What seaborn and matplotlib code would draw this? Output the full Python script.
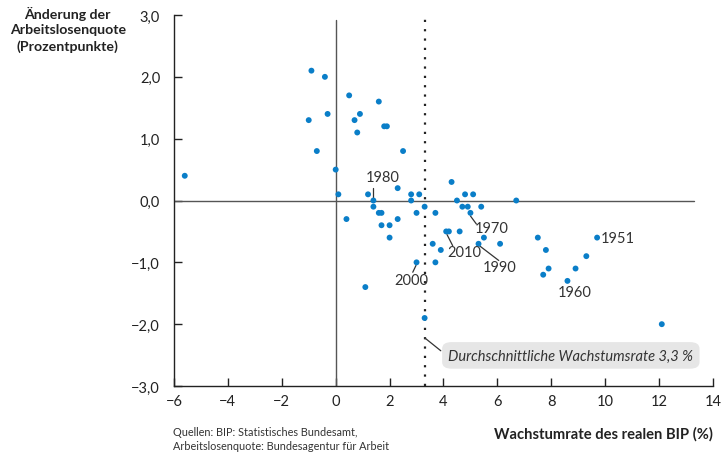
import numpy as np
import pandas as pd
import matplotlib
matplotlib.use("Agg")
import matplotlib.pyplot as plt
import seaborn as sns
from matplotlib.patches import FancyBboxPatch

# GDP growth (%) and change of the unemployment rate (percentage points)
growth = [-5.6, -0.9, -0.4, 0.5, 1.6, -0.3, 0.9, -1.0, 0.7, 1.8, 1.9, 0.8,
          -0.7, 2.5, 0.0, 2.3, 0.1, 1.2, 2.8, 3.1, 1.4, 2.8, 1.4, 3.3,
          1.6, 1.7, 3.0, 0.4, 2.3, 1.7, 2.0, 2.0, 4.1, 4.2, 4.6, 3.6,
          3.9, 3.0, 3.7, 1.1, 3.3, 4.3, 4.8, 5.1, 4.5, 6.7, 3.7, 4.7,
          4.9, 5.4, 5.0, 5.5, 5.3, 6.1, 7.5, 7.8, 7.9, 7.7, 8.6, 8.9,
          9.3, 9.7, 12.1]
delta_u = [0.4, 2.1, 2.0, 1.7, 1.6, 1.4, 1.4, 1.3, 1.3, 1.2, 1.2, 1.1,
           0.8, 0.8, 0.5, 0.2, 0.1, 0.1, 0.1, 0.1, 0.0, 0.0, -0.1, -0.1,
           -0.2, -0.2, -0.2, -0.3, -0.3, -0.4, -0.4, -0.6, -0.5, -0.5, -0.5, -0.7,
           -0.8, -1.0, -1.0, -1.4, -1.9, 0.3, 0.1, 0.1, 0.0, 0.0, -0.2, -0.1,
           -0.1, -0.1, -0.2, -0.6, -0.7, -0.7, -0.6, -0.8, -1.1, -1.2, -1.3, -1.1,
           -0.9, -0.6, -2.0]

avg_growth = 3.3

x_ticks = [-6, -4, -2, 0, 2, 4, 6, 8, 10, 12, 14]
y_ticks = [-3.0, -2.0, -1.0, 0.0, 1.0, 2.0, 3.0]

df = pd.DataFrame({"growth": growth, "delta_u": delta_u})

sns.set_style("ticks")
plt.rcParams["font.family"] = ["Lato", "DejaVu Sans"]
text_col = "#222222"

fig = plt.figure(figsize=(7.21, 4.56), dpi=100)
ax = fig.add_axes([0.2413, 0.1513, 0.7476, 0.8136])

ax.axhline(0, xmin=0, xmax=(13.3 + 6) / 20, color="#555555", lw=1.0, zorder=1)
ax.axvline(0, ymin=0, ymax=(2.92 + 3) / 6, color="#555555", lw=1.0, zorder=1)
ax.axvline(avg_growth, color="#222222", lw=1.6, ls=(0, (1, 3.2)), zorder=1)

sns.scatterplot(data=df, x="growth", y="delta_u", ax=ax, s=18,
                color="#0a7ec8", edgecolor="none", zorder=3)

ax.set_xlim(-6, 14)
ax.set_ylim(-3, 3)
ax.set_xticks(x_ticks)
ax.set_xticklabels([str(t).replace("-", "\u2212") for t in x_ticks])
ax.set_yticks(y_ticks)
ax.set_yticklabels([f"{t:.1f}".replace(".", ",").replace("-", "\u2212") for t in y_ticks])
ax.tick_params(direction="in", length=6, width=1, colors=text_col,
               labelsize=10.5, pad=6)
ax.tick_params(axis="y", pad=10)
for side in ["top", "right"]:
    ax.spines[side].set_visible(False)
for side in ["left", "bottom"]:
    ax.spines[side].set_color(text_col)
    ax.spines[side].set_linewidth(1)
ax.set_xlabel("")
ax.set_ylabel("")

# year labels with leader lines
lab_style = dict(fontsize=10.5, color="#333333")
line_style = dict(color="#333333", lw=0.9)
# 1980
ax.plot([1.4, 1.4], [0.03, 0.21], **line_style)
ax.text(1.75, 0.38, "1980", ha="center", va="center", **lab_style)
# 1970
ax.plot([5.0, 5.22], [-0.25, -0.38], **line_style)
ax.text(5.15, -0.45, "1970", ha="left", va="center", **lab_style)
# 2010
ax.plot([4.13, 4.34], [-0.55, -0.73], **line_style)
ax.text(4.15, -0.83, "2010", ha="left", va="center", **lab_style)
# 1990
ax.plot([5.33, 6.05], [-0.73, -0.97], **line_style)
ax.text(6.1, -1.08, "1990", ha="center", va="center", **lab_style)
# 2000
ax.plot([2.98, 2.86], [-1.05, -1.16], **line_style)
ax.text(2.82, -1.29, "2000", ha="center", va="center", **lab_style)
# 1951
ax.text(9.85, -0.6, "1951", ha="left", va="center", **lab_style)
# 1960
ax.text(8.86, -1.48, "1960", ha="center", va="center", **lab_style)

# average growth annotation
ax.plot([avg_growth, 3.9], [-2.22, -2.43], **line_style)
box = FancyBboxPatch((3.95, -2.72), 9.55, 0.43,
                     boxstyle="round,pad=0,rounding_size=0.35",
                     mutation_aspect=0.3,
                     fc="#e6e6e6", ec="none", zorder=2)
ax.add_patch(box)
ax.text(8.72, -2.505, "Durchschnittliche Wachstumsrate 3,3 %",
        ha="center", va="center", fontsize=10.5, style="italic",
        color="#333333", zorder=3)

fig.text(0.094, 0.985, "Änderung der\nArbeitslosenquote\n(Prozentpunkte)",
         ha="center", va="top", fontsize=10.2, fontweight="bold",
         color=text_col, linespacing=1.35)
fig.text(0.9889, 0.048, "Wachstumrate des realen BIP (%)",
         ha="right", va="center", fontsize=10.6, fontweight="bold",
         color=text_col)
fig.text(0.24, 0.036,
         "Quellen: BIP: Statistisches Bundesamt,\nArbeitslosenquote: Bundesagentur für Arbeit",
         ha="left", va="center", fontsize=7.8, color="#333333", linespacing=1.25)

fig.savefig("out.png", dpi=100)
